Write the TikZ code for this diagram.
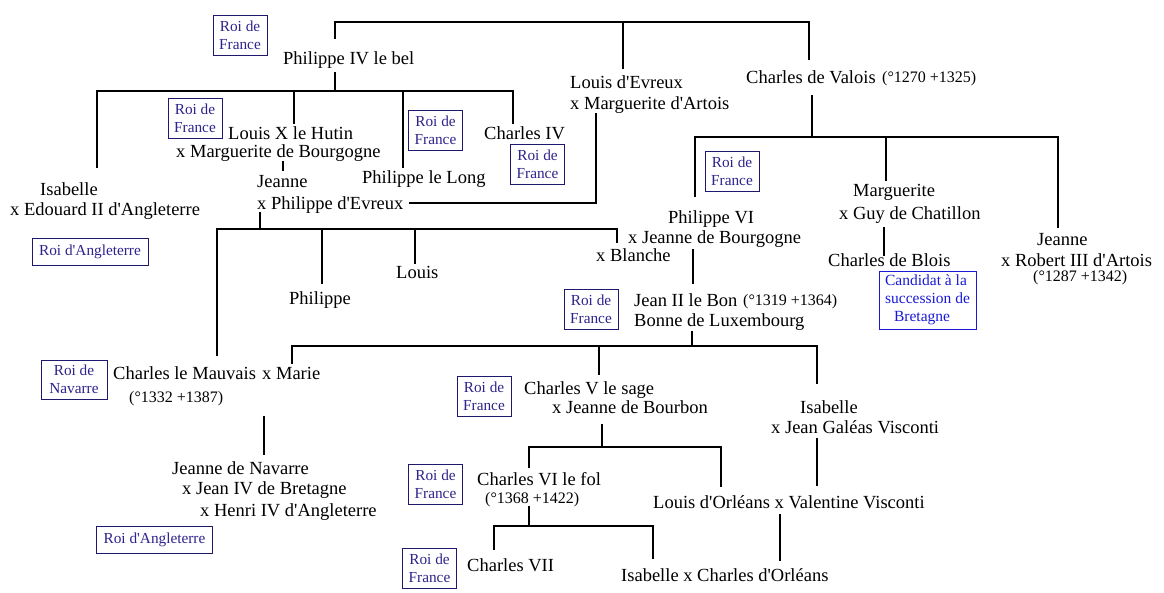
\documentclass[tikz,border=0pt]{standalone}
\usepackage{fontspec}
\newfontfamily\tnr{Liberation Serif}
\definecolor{roiblue}{RGB}{45,35,140}
\definecolor{roiframe}{RGB}{30,25,110}
\definecolor{candblue}{RGB}{25,25,215}
\tikzset{
  person/.style={anchor=base west, inner sep=0pt, font=\tnr\fontsize{18.5}{22}\selectfont},
  dates/.style={anchor=base west, inner sep=0pt, font=\tnr\fontsize{16}{19}\selectfont},
  roi/.style={draw=roiframe, line width=1pt, text=roiblue, font=\tnr\fontsize{15.3}{18}\selectfont, align=center, inner sep=0pt},
  roifr/.style={roi, minimum width=54, minimum height=40},
  roiang/.style={roi, minimum width=116, minimum height=27},
  cand/.style={draw=candblue, line width=1pt, text=candblue, font=\tnr\fontsize{15.5}{18}\selectfont, align=left, inner sep=0pt, minimum width=97, minimum height=58},
  link/.style={line width=1.1pt, line cap=rect}
}
\begin{document}
\begin{tikzpicture}[x=1pt,y=-1pt]
\fill[white] (0,0) rectangle (1164,592);
\useasboundingbox (0,0) rectangle (1164,592);

% ---------- boxes ----------
\node[roifr] (r1) at (240,35) {Roi de\\France};
\node[roifr] (r2) at (195,118) {Roi de\\France};
\node[roifr] (r3) at (435.5,130) {Roi de\\France};
\node[roifr] (r4) at (537.5,164) {Roi de\\France};
\node[roifr] (r5) at (732,171.5) {Roi de\\France};
\node[roifr] (r6) at (591,309) {Roi de\\France};
\node[roifr] (r7) at (484,396.5) {Roi de\\France};
\node[roifr] (r8) at (435.5,484) {Roi de\\France};
\node[roifr] (r9) at (429.5,568.5) {Roi de\\France};
\node[roi, minimum width=66, minimum height=39] (rnav) at (74,379.5) {Roi de\\Navarre};
\node[roiang] (rang1) at (90,251.5) {Roi d'Angleterre};
\node[roiang] (rang2) at (154.5,539.5) {Roi d'Angleterre};
\node[cand] (cand) at (927.5,300) {Candidat à la\\succession de\\\hspace*{9pt}Bretagne};

% ---------- people ----------
\node[person] (p4) at (283,64) {Philippe IV le bel};
\node[person] (lev1) at (570,88) {Louis d'Evreux};
\node[person] (lev2) at (570,109) {x Marguerite d'Artois};
\node[person] (val) at (746,83) {Charles de Valois};
\node[dates] (vald) at (882,82) {(°1270 +1325)};
\node[person] (lx1) at (228,139) {Louis X le Hutin};
\node[person] (lx2) at (176,157) {x Marguerite de Bourgogne};
\node[person] (plong) at (362,183) {Philippe le Long};
\node[person] (c4) at (484,139) {Charles IV};
\node[person] (isa1) at (40,195) {Isabelle};
\node[person] (isa2) at (10,215) {x Edouard II d'Angleterre};
\node[person] (jea1) at (257,187) {Jeanne};
\node[person] (jea2) at (257,209) {x Philippe d'Evreux};
\node[person] (p6a) at (668,223) {Philippe VI};
\node[person] (p6b) at (628,243) {x Jeanne de Bourgogne};
\node[person] (blan) at (596,261) {x Blanche};
\node[person] (marg1) at (853,196) {Marguerite};
\node[person] (marg2) at (839,219) {x Guy de Chatillon};
\node[person] (blois) at (828,266) {Charles de Blois};
\node[person] (jr1) at (1037,245) {Jeanne};
\node[person] (jr2) at (1001,266) {x Robert III d'Artois};
\node[dates] (jrd) at (1033,281) {(°1287 +1342)};
\node[person] (louis) at (396,278) {Louis};
\node[person] (phil) at (289,304) {Philippe};
\node[person] (j2a) at (634,306) {Jean II le Bon};
\node[dates] (j2d) at (743,305) {(°1319 +1364)};
\node[person] (j2b) at (634,326) {Bonne de Luxembourg};
\node[person] (mauv) at (113,379) {Charles le Mauvais};
\node[person] (marie) at (262,379) {x Marie};
\node[dates] (mauvd) at (129,402) {(°1332 +1387)};
\node[person] (c5a) at (524,394) {Charles V le sage};
\node[person] (c5b) at (552,413) {x Jeanne de Bourbon};
\node[person] (ir1) at (800,413) {Isabelle};
\node[person] (ir2) at (771,433) {x Jean Galéas Visconti};
\node[person] (nav1) at (172,474) {Jeanne de Navarre};
\node[person] (nav2) at (182,494) {x Jean IV de Bretagne};
\node[person] (nav3) at (200,516) {x Henri IV d'Angleterre};
\node[person] (c6) at (477,485) {Charles VI le fol};
\node[dates] (c6d) at (485,503) {(°1368 +1422)};
\node[person] (orl) at (653,508) {Louis d'Orléans x Valentine Visconti};
\node[person] (c7) at (467,571) {Charles VII};
\node[person] (isc) at (621,581) {Isabelle x Charles d'Orléans};

% ---------- connector coordinates ----------
\coordinate (top) at (335,22);
\coordinate (p4up) at (335,38);
\coordinate (levup) at (623,68);
\coordinate (valup) at (809,59);
\coordinate (p4dn) at (335,73);
\coordinate (bar2) at (335,91);
\coordinate (isaup) at (97,167);
\coordinate (lxup) at (294,123);
\coordinate (plongup) at (403,167);
\coordinate (c4up) at (513,123);
\coordinate (lxdn) at (283,162);
\coordinate (jeaup) at (283,170);
\coordinate (levdn) at (596,114);
\coordinate (jeamar) at (410,203);
\coordinate (jeadn) at (260,213);
\coordinate (bar3) at (260,229);
\coordinate (mauvup) at (217,355);
\coordinate (philup) at (322,283);
\coordinate (louisup) at (415,263);
\coordinate (blanup) at (617,242);
\coordinate (valdn) at (812,96);
\coordinate (bar4) at (812,137);
\coordinate (p6up) at (695,196);
\coordinate (margup) at (886,180);
\coordinate (jrup) at (1058,227);
\coordinate (margdn) at (884,228);
\coordinate (bloisup) at (884,255);
\coordinate (p6dn) at (693,250);
\coordinate (j2up) at (693,283);
\coordinate (j2dn) at (692,332);
\coordinate (bar5) at (692,346);
\coordinate (marieup) at (292,363);
\coordinate (c5up) at (599,374);
\coordinate (irup) at (817,383);
\coordinate (mariedn) at (264,417);
\coordinate (navup) at (264,454);
\coordinate (c5dn) at (602,425);
\coordinate (bar6) at (602,447);
\coordinate (c6up) at (529,467);
\coordinate (orlup) at (721,486);
\coordinate (c6dn) at (529,507);
\coordinate (bar7) at (529,526);
\coordinate (c7up) at (494,549);
\coordinate (iscup) at (653,558);
\coordinate (orldn) at (780,515);
\coordinate (iscup2) at (780,560);
\coordinate (irdn) at (817,439);
\coordinate (orlup2) at (817,485);

% ---------- connectors ----------
\draw[link] (p4up) -- (top) -- (valup |- top) -- (valup);
\draw[link] (levup |- top) -- (levup);

\draw[link] (p4dn) -- (bar2);
\draw[link] (isaup) -- (isaup |- bar2) -- (c4up |- bar2) -- (c4up);
\draw[link] (lxup |- bar2) -- (lxup);
\draw[link] (plongup |- bar2) -- (plongup);

\draw[link] (lxdn) -- (jeaup);
\draw[link] (levdn) -- (levdn |- jeamar) -- (jeamar);

\draw[link] (jeadn) -- (bar3);
\draw[link] (mauvup) -- (mauvup |- bar3) -- (blanup |- bar3) -- (blanup);
\draw[link] (philup |- bar3) -- (philup);
\draw[link] (louisup |- bar3) -- (louisup);

\draw[link] (valdn) -- (bar4);
\draw[link] (p6up) -- (p6up |- bar4) -- (jrup |- bar4) -- (jrup);
\draw[link] (margup |- bar4) -- (margup);
\draw[link] (margdn) -- (bloisup);

\draw[link] (p6dn) -- (j2up);

\draw[link] (j2dn) -- (bar5);
\draw[link] (marieup) -- (marieup |- bar5) -- (irup |- bar5) -- (irup);
\draw[link] (c5up |- bar5) -- (c5up);

\draw[link] (mariedn) -- (navup);

\draw[link] (c5dn) -- (bar6);
\draw[link] (c6up) -- (c6up |- bar6) -- (orlup |- bar6) -- (orlup);

\draw[link] (c6dn) -- (bar7);
\draw[link] (c7up) -- (c7up |- bar7) -- (iscup |- bar7) -- (iscup);

\draw[link] (orldn) -- (iscup2);
\draw[link] (irdn) -- (orlup2);
\end{tikzpicture}
\end{document}
